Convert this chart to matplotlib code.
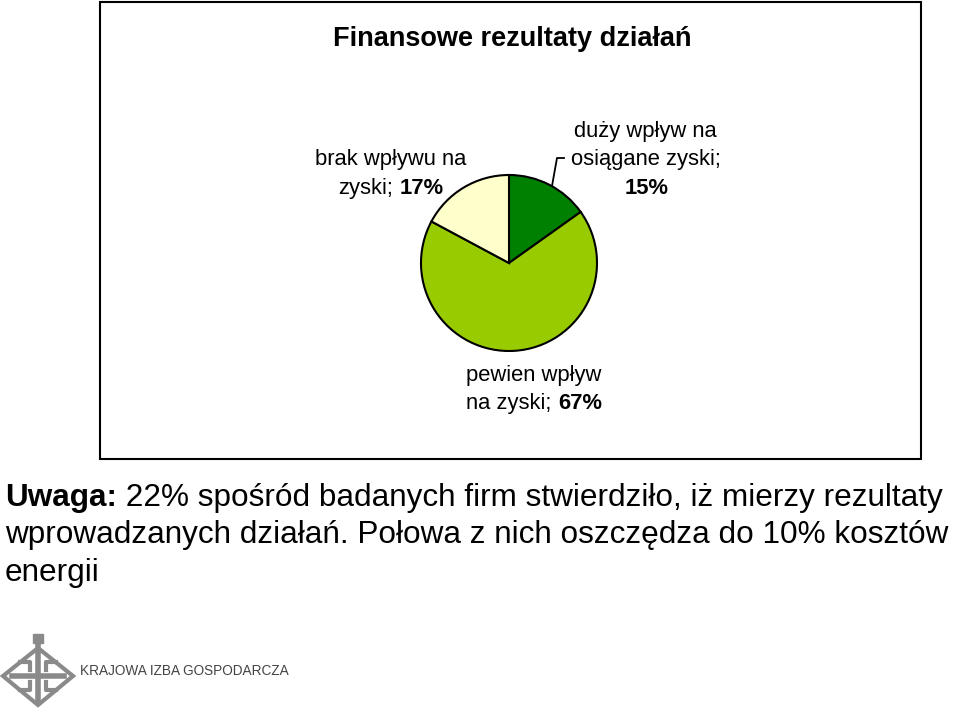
import matplotlib.pyplot as plt
import matplotlib.patches as mpatches

plt.rcParams['font.family'] = ['Liberation Sans', 'DejaVu Sans']

# data
labels = ['duży wpływ na\nosiągane zyski;', 'pewien wpływ\nna zyski;', 'brak wpływu na\nzyski;']
values = [15, 67, 17]
pct_labels = ['15%', '67%', '17%']
colors = ['#008000', '#99CC00', '#FFFFCC']

title = 'Finansowe rezultaty działań'
note_bold = 'Uwaga:'
note_lines = [' 22% spośród badanych firm stwierdziło, iż mierzy rezultaty',
              'wprowadzanych działań. Połowa z nich oszczędza do 10% kosztów',
              'energii']
logo_text = 'KRAJOWA IZBA GOSPODARCZA'

W, H = 959, 708
fig = plt.figure(figsize=(W / 100, H / 100), dpi=100)
ax = fig.add_axes([0, 0, 1, 1])
renderer = fig.canvas.get_renderer()


def Y(y):
    return H - y


ax.pie(values, colors=colors, startangle=90, counterclock=False, center=(509, Y(263)), radius=88,
       wedgeprops=dict(edgecolor='black', linewidth=1.5), frame=True)
ax.set_xlim(0, W)
ax.set_ylim(0, H)
ax.set_aspect('equal')
ax.axis('off')

# chart frame
ax.add_patch(mpatches.Rectangle((100, Y(459)), 821, 457, fill=False, edgecolor='black', lw=1.5))

ax.text(512, Y(46), title, fontsize=19.5, fontweight='bold', ha='center', va='baseline')


def mixed_line(xc, y, parts, size):
    texts = []
    total = 0
    for s, w in parts:
        t = ax.text(0, Y(y), s, fontsize=size, fontweight=w, ha='left', va='baseline')
        wd = t.get_window_extent(renderer).width
        texts.append((t, wd))
        total += wd
    gap = size * 0.28 * 100 / 72 if len(parts) > 1 else 0
    total += gap * (len(parts) - 1)
    x = xc - total / 2
    for t, wd in texts:
        t.set_x(x)
        x += wd + gap


fs = 15.8
# label: duzy wplyw
l1 = labels[0].split('\n')
mixed_line(645, 137, [(l1[0], 'normal')], fs)
mixed_line(646, 165, [(l1[1], 'normal')], fs)
mixed_line(647, 194, [(pct_labels[0], 'bold')], fs)
ax.plot([564, 557, 552], [Y(158), Y(158), Y(186)], color='black', lw=1.3)

# label: pewien wplyw
l2 = labels[1].split('\n')
mixed_line(534, 381, [(l2[0], 'normal')], fs)
mixed_line(534, 409, [(l2[1], 'normal'), (pct_labels[1], 'bold')], fs)

# label: brak wplywu
l3 = labels[2].split('\n')
mixed_line(391, 165, [(l3[0], 'normal')], fs)
mixed_line(391, 194, [(l3[1], 'normal'), (pct_labels[2], 'bold')], fs)

# note below
nfs = 22.7
t = ax.text(5, Y(506), note_bold, fontsize=nfs, fontweight='bold', ha='left', va='baseline')
bw = t.get_window_extent(renderer).width
ax.text(5 + bw, Y(506), note_lines[0], fontsize=nfs, ha='left', va='baseline')
ax.text(5, Y(543), note_lines[1], fontsize=nfs, ha='left', va='baseline')
ax.text(5, Y(581), note_lines[2], fontsize=nfs, ha='left', va='baseline')

# logo
gray = '#8a8a8a'
ax.add_patch(mpatches.Polygon([(38, Y(648)), (73, Y(676)), (38, Y(705)), (3, Y(676))],
                              closed=True, fill=False, edgecolor=gray, lw=3))
ax.plot([38, 38], [Y(640), Y(700)], color=gray, lw=4)
ax.plot([12, 64], [Y(676), Y(676)], color=gray, lw=4)
ax.plot([20, 30, 30], [Y(662), Y(662), Y(670)], color=gray, lw=3)
ax.plot([56, 46, 46], [Y(690), Y(690), Y(682)], color=gray, lw=3)
ax.plot([20, 30, 30], [Y(690), Y(690), Y(682)], color=gray, lw=3)
ax.plot([56, 46, 46], [Y(662), Y(662), Y(670)], color=gray, lw=3)
ax.add_patch(mpatches.Rectangle((33, Y(643)), 10, 9, color=gray))
ax.text(80, Y(675), logo_text, fontsize=9.8, color='#444444', ha='left', va='baseline')

fig.savefig('out.png', dpi=100)
